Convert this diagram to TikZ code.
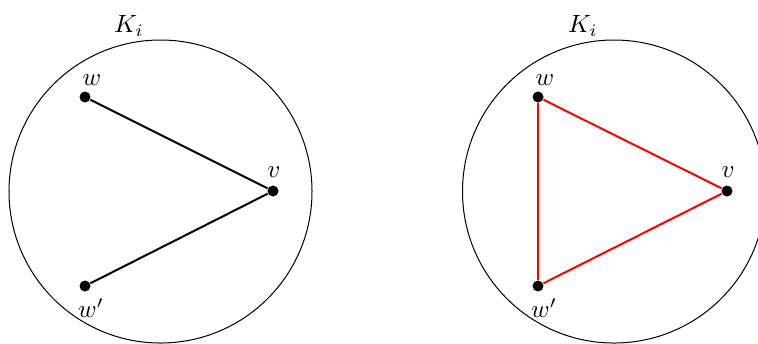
\documentclass[tikz,border=0pt]{standalone}
\begin{document}
\begin{tikzpicture}[x=0.4pt,y=-0.4pt,
  ring/.style={draw,circle,minimum size=121.2pt,inner sep=0pt,line width=0.4pt},
  dot/.style={circle,fill=black,inner sep=0pt,minimum size=4.4pt},
  edge/.style={line width=0.8pt},
  redge/.style={line width=0.8pt,red},
  lbl/.style={inner sep=0pt}]
\useasboundingbox (0,0) rectangle (758,343);
\clip (0,0) rectangle (758,343);
% left
\node[ring] (C1) at (160.5,191.5) {};
\node[lbl] (K1) at (129,26) {$K_i$};
\node[dot] (w1) at (85,97) {};
\node[dot] (v1) at (273,191) {};
\node[dot] (u1) at (85,286) {};
\node[lbl] (lw1) at (92,80.5) {$w$};
\node[lbl] (lv1) at (274,172.5) {$v$};
\node[lbl] (lu1) at (91,308) {$w'$};
\draw[edge] (w1) -- (v1);
\draw[edge] (u1) -- (v1);
% right
\node[ring] (C2) at (614,191.5) {};
\node[lbl] (K2) at (583,26) {$K_i$};
\node[dot] (w2) at (538,97) {};
\node[dot] (v2) at (727,191) {};
\node[dot] (u2) at (538,286) {};
\node[lbl] (lw2) at (545,80.5) {$w$};
\node[lbl] (lv2) at (728,172.5) {$v$};
\node[lbl] (lu2) at (544,308) {$w'$};
\draw[redge] (w2) -- (v2);
\draw[redge] (u2) -- (v2);
\draw[redge] (w2) -- (u2);
\end{tikzpicture}
\end{document}
